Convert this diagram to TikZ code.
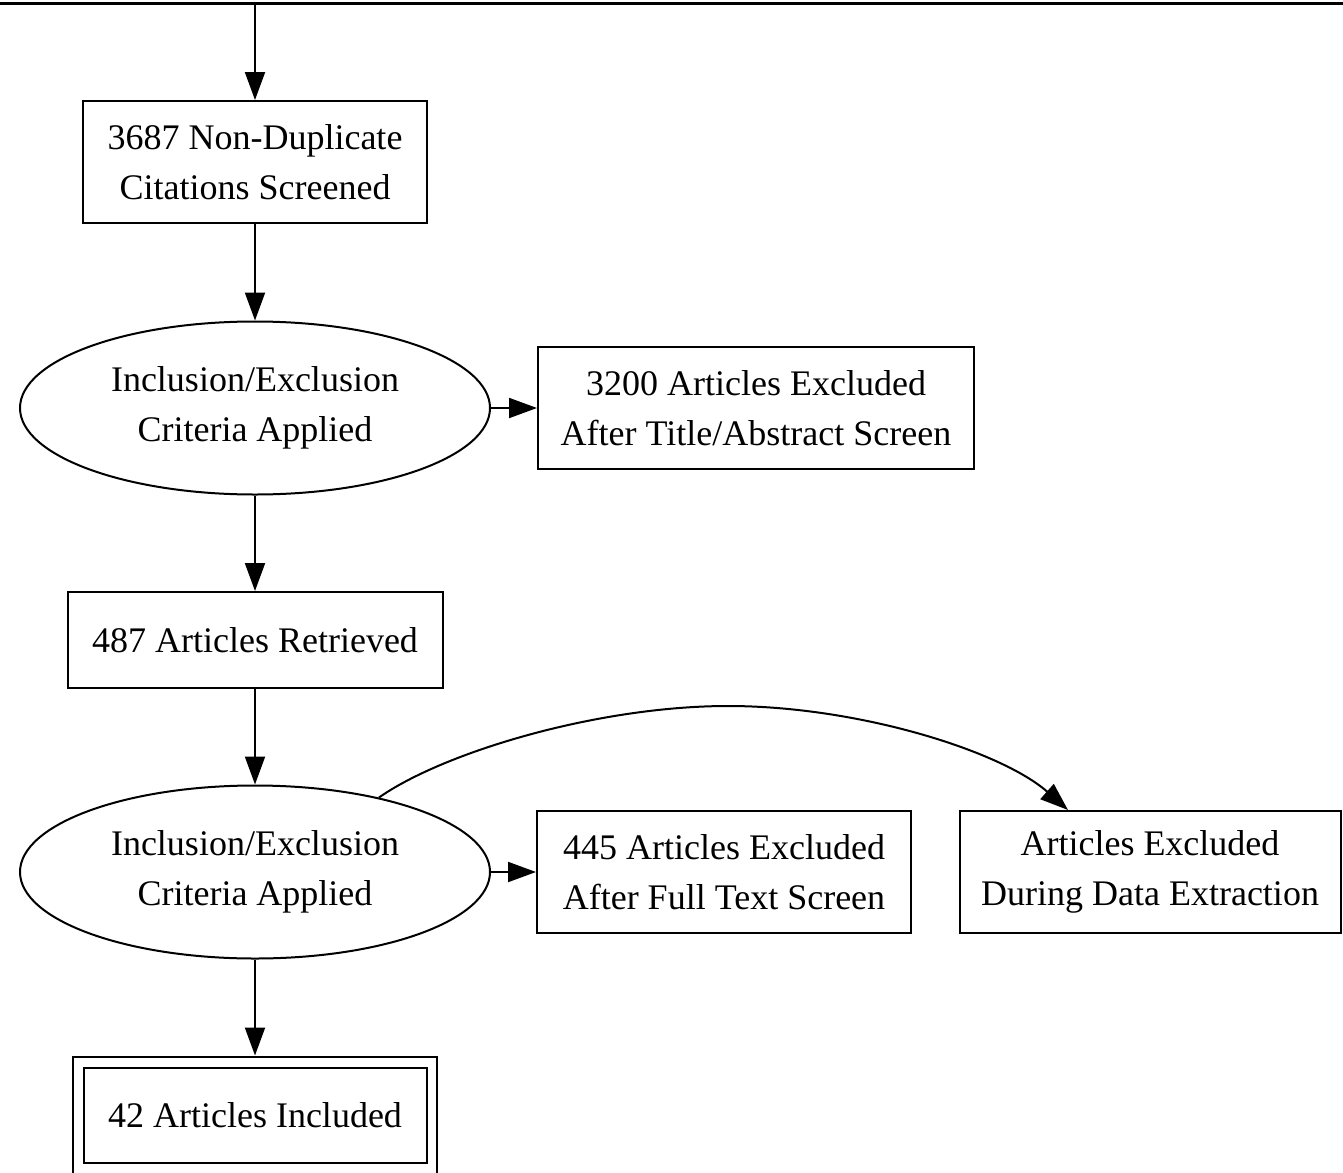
\documentclass[tikz,border=0pt]{standalone}
\usepackage{fontspec}
\setmainfont{Liberation Serif}
\usetikzlibrary{shapes,arrows.meta,calc,positioning}
\tikzstyle{ptr}  = [draw, line width=2pt, -{Triangle[length=28pt,width=20pt]}]
\tikzstyle{box}  = [rectangle, draw, line width=2pt, align=center, minimum height=122pt, inner sep=0pt]
\tikzstyle{crit} = [ellipse, draw, line width=2pt, align=center, minimum width=470pt, minimum height=173pt, inner sep=0pt]

\begin{document}
\begin{tikzpicture}[x=1pt, y=-1pt, font=\fontsize{36}{50}\selectfont]
    \useasboundingbox (0,0) rectangle (1343,1172);

    \draw[line width=3pt] (0,4) -- (1343,4);
    \coordinate (top) at (255,4);

    \node[box, minimum width=344pt] (cite) at (255,162) {3687 Non-Duplicate\\Citations Screened};
    \node[crit, below of=cite, node distance=246pt] (crit1) {Inclusion/Exclusion\\Criteria Applied};
    \node[box, minimum width=436pt, right of=crit1, node distance=501pt] (excl1) {3200 Articles Excluded\\After Title/Abstract Screen};

    \node[box, minimum width=375pt, minimum height=96pt, below of=crit1, node distance=232pt] (retr) {487 Articles Retrieved};
    \node[crit, below of=retr, node distance=232pt] (crit2) {Inclusion/Exclusion\\Criteria Applied};
    \node[box, minimum width=374pt, right of=crit2, node distance=469pt] (excl2) {445 Articles Excluded\\After Full Text Screen};
    \node[box, minimum width=381pt, right of=excl2, node distance=426pt] (excl3) {Articles Excluded\\During Data Extraction};

    \node[box, minimum width=343pt, minimum height=95pt, below of=crit2, node distance=243pt] (incl) {42 Articles Included};
    \node[box, minimum width=364pt, minimum height=117pt] (inclout) at (incl) {};

    \path[ptr] (top) -- (cite);
    \path[ptr] (cite) -- (crit1);
    \path[ptr] (crit1) -- (excl1);
    \path[ptr] (crit1) -- (retr);
    \path[ptr] (retr) -- (crit2);
    \path[ptr] (crit2) -- (excl2);
    \path[ptr] (crit2) -- (inclout);
    \draw[ptr] (crit2.31) .. controls (444,752) and (598,706) .. (728,706)
               .. controls (858,706) and (1001,751) .. ([xshift=-82pt]excl3.north);

\end{tikzpicture}
\end{document}
